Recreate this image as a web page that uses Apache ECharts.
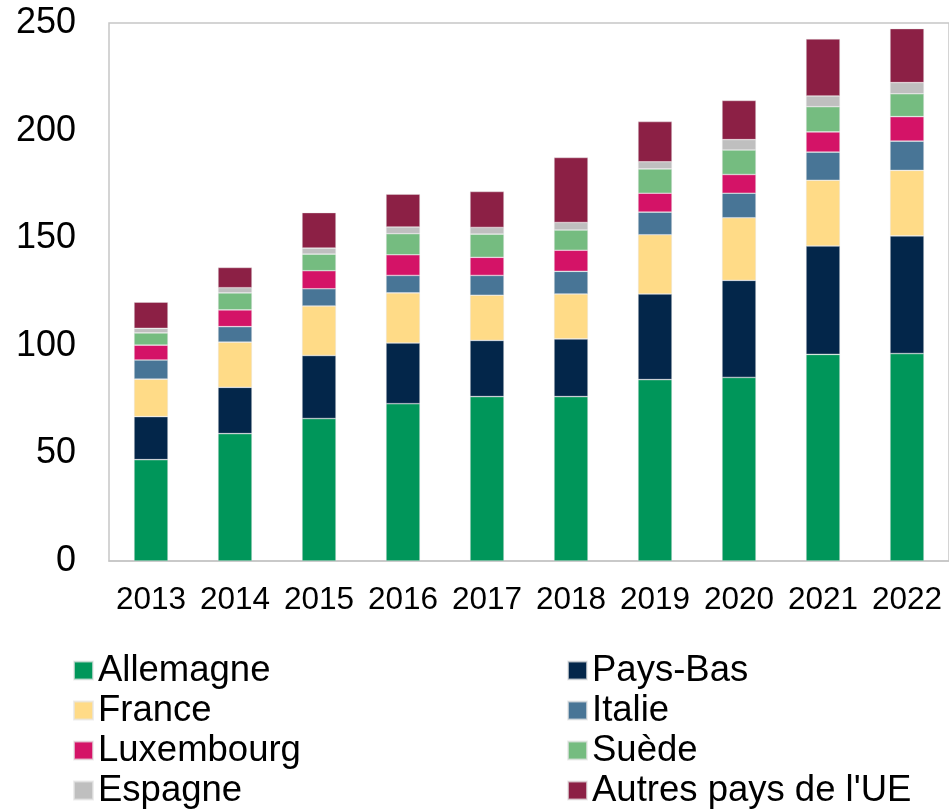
<!DOCTYPE html>
<html>
<head>
<meta charset="utf-8">
<script src="https://cdn.jsdelivr.net/npm/echarts@6/dist/echarts.min.js"></script>
<style>
  html, body { margin: 0; padding: 0; background: #fff; }
  #chart { width: 949px; height: 812px; }
</style>
</head>
<body>
<div id="chart"></div>
<script>
var years = ['2013', '2014', '2015', '2016', '2017', '2018', '2019', '2020', '2021', '2022'];

var allemagne  = [47.1, 59.2, 66.2, 73.1, 76.4, 76.4, 84.3, 85.3, 96.0, 96.4];
var paysBas    = [20.0, 21.5, 29.3, 28.2, 26.1, 26.8, 39.8, 45.1, 50.4, 54.7];
var france     = [17.4, 21.0, 23.0, 23.3, 21.0, 20.9, 27.5, 29.1, 30.5, 30.4];
var italie     = [8.9, 7.2, 8.0, 8.1, 9.2, 10.5, 10.5, 11.4, 13.1, 13.6];
var luxembourg = [6.9, 7.8, 8.4, 9.6, 8.4, 9.8, 8.8, 8.7, 9.4, 11.4];
var suede      = [5.7, 7.9, 7.7, 9.8, 10.8, 9.4, 11.3, 11.4, 11.7, 10.6];
var espagne    = [2.1, 2.4, 2.8, 3.1, 3.1, 3.5, 3.3, 4.8, 5.0, 5.2];
var autres     = [12.2, 9.4, 16.5, 15.3, 16.7, 30.2, 18.7, 18.2, 26.5, 25.1];

var yTicks = [0, 50, 100, 150, 200, 250];

var font = "'Liberation Sans', Arial, sans-serif";

var stackList = [
    { name: 'Allemagne', data: allemagne, color: '#00965A' },
    { name: 'Pays-Bas', data: paysBas, color: '#03264A' },
    { name: 'France', data: france, color: '#FFDB87' },
    { name: 'Italie', data: italie, color: '#487596' },
    { name: 'Luxembourg', data: luxembourg, color: '#D41367' },
    { name: 'Suède', data: suede, color: '#75BC80' },
    { name: 'Espagne', data: espagne, color: '#BFBFBF' },
    { name: "Autres pays de l'UE", data: autres, color: '#8C2045' }
];

var series = stackList.map(function (s) {
    return {
        name: s.name,
        type: 'bar',
        stack: 'total',
        barWidth: 34,
        data: s.data,
        itemStyle: { color: s.color, borderColor: 'rgba(230,230,230,0.7)', borderWidth: 0.6 }
    };
});

var legendCommon = {
    orient: 'vertical',
    top: 647,
    height: 200,
    itemWidth: 19,
    itemHeight: 18,
    itemGap: 3,
    icon: 'rect',
    textStyle: { fontFamily: font, fontSize: 36.5, color: '#000', lineHeight: 35.5 }
};

var chart = echarts.init(document.getElementById('chart'));
chart.setOption({
    animation: false,
    textStyle: { fontFamily: font },
    grid: {
        left: 109, top: 23, width: 842, height: 538,
        show: true, borderColor: '#c6c6c6', borderWidth: 1.5
    },
    legend: [
        Object.assign({}, legendCommon, { left: 68, data: ['Allemagne', 'France', 'Luxembourg', 'Espagne'] }),
        Object.assign({}, legendCommon, { left: 562, data: ['Pays-Bas', 'Italie', 'Suède', "Autres pays de l'UE"] })
    ],
    xAxis: {
        type: 'category',
        data: years,
        axisTick: { show: false },
        axisLine: { lineStyle: { color: '#c6c6c6', width: 1.5 } },
        axisLabel: { color: '#000', fontSize: 31.5, fontFamily: font, margin: 23, interval: 0 }
    },
    yAxis: {
        type: 'value',
        min: yTicks[0],
        max: yTicks[yTicks.length - 1],
        interval: 50,
        axisLine: { show: false },
        axisTick: { show: false },
        splitLine: { show: false },
        axisLabel: { color: '#000', fontSize: 36, fontFamily: font, margin: 33 }
    },
    series: series
});
</script>
</body>
</html>
